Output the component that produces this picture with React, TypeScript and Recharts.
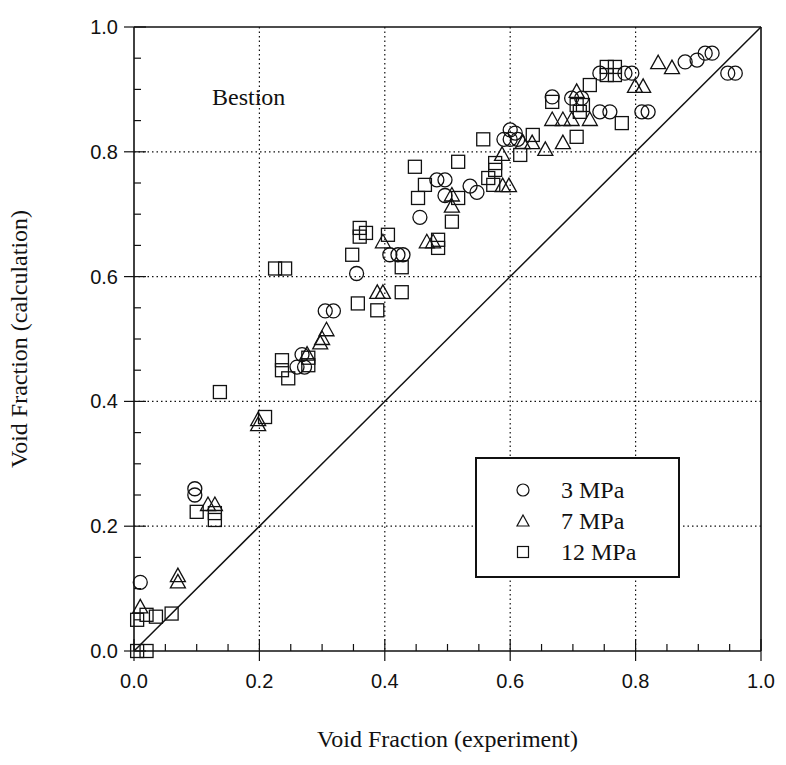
import React from "react";
import {
  ScatterChart,
  Scatter,
  XAxis,
  YAxis,
  CartesianGrid,
  ReferenceLine,
  Legend,
} from "recharts";

// values (x = experiment, y = calculation)
const mpa3 = [
  { x: 0.01, y: 0.11 },
  { x: 0.097, y: 0.26 },
  { x: 0.097, y: 0.25 },
  { x: 0.26, y: 0.455 },
  { x: 0.272, y: 0.455 },
  { x: 0.268, y: 0.475 },
  { x: 0.305, y: 0.545 },
  { x: 0.318, y: 0.545 },
  { x: 0.355, y: 0.605 },
  { x: 0.408, y: 0.635 },
  { x: 0.421, y: 0.635 },
  { x: 0.429, y: 0.635 },
  { x: 0.456, y: 0.695 },
  { x: 0.483, y: 0.755 },
  { x: 0.496, y: 0.755 },
  { x: 0.496, y: 0.73 },
  { x: 0.536, y: 0.745 },
  { x: 0.547, y: 0.735 },
  { x: 0.59, y: 0.82 },
  { x: 0.6, y: 0.835 },
  { x: 0.608, y: 0.83 },
  { x: 0.6, y: 0.82 },
  { x: 0.612, y: 0.82 },
  { x: 0.667, y: 0.888 },
  { x: 0.698, y: 0.886 },
  { x: 0.714, y: 0.886 },
  { x: 0.743, y: 0.864 },
  { x: 0.759, y: 0.864 },
  { x: 0.81, y: 0.864 },
  { x: 0.82, y: 0.864 },
  { x: 0.743, y: 0.926 },
  { x: 0.783, y: 0.926 },
  { x: 0.794, y: 0.926 },
  { x: 0.879, y: 0.944 },
  { x: 0.898, y: 0.947 },
  { x: 0.911, y: 0.958 },
  { x: 0.922, y: 0.958 },
  { x: 0.947, y: 0.926 },
  { x: 0.959, y: 0.926 },
];

const mpa7 = [
  { x: 0.01, y: 0.07 },
  { x: 0.07, y: 0.12 },
  { x: 0.07, y: 0.11 },
  { x: 0.118, y: 0.234 },
  { x: 0.129, y: 0.234 },
  { x: 0.198, y: 0.37 },
  { x: 0.198, y: 0.362 },
  { x: 0.276, y: 0.475 },
  { x: 0.297, y: 0.493 },
  { x: 0.3, y: 0.5 },
  { x: 0.307, y: 0.514 },
  { x: 0.388, y: 0.574 },
  { x: 0.397, y: 0.574 },
  { x: 0.397, y: 0.655 },
  { x: 0.467, y: 0.655 },
  { x: 0.477, y: 0.655 },
  { x: 0.507, y: 0.73 },
  { x: 0.507, y: 0.712 },
  { x: 0.588, y: 0.745 },
  { x: 0.598, y: 0.745 },
  { x: 0.587, y: 0.795 },
  { x: 0.62, y: 0.814 },
  { x: 0.635, y: 0.814 },
  { x: 0.656, y: 0.803 },
  { x: 0.667, y: 0.851 },
  { x: 0.684, y: 0.851 },
  { x: 0.698, y: 0.851 },
  { x: 0.684, y: 0.814 },
  { x: 0.706, y: 0.896 },
  { x: 0.727, y: 0.851 },
  { x: 0.799, y: 0.904 },
  { x: 0.812, y: 0.904 },
  { x: 0.836, y: 0.942 },
  { x: 0.858, y: 0.934 },
];

const mpa12 = [
  { x: 0.005, y: 0.0 },
  { x: 0.02, y: 0.0 },
  { x: 0.005, y: 0.05 },
  { x: 0.02, y: 0.058 },
  { x: 0.035, y: 0.055 },
  { x: 0.06, y: 0.06 },
  { x: 0.1, y: 0.223 },
  { x: 0.129, y: 0.221 },
  { x: 0.129, y: 0.21 },
  { x: 0.137, y: 0.415 },
  { x: 0.209, y: 0.375 },
  { x: 0.225, y: 0.613 },
  { x: 0.241, y: 0.613 },
  { x: 0.236, y: 0.466 },
  { x: 0.236, y: 0.45 },
  { x: 0.246, y: 0.437 },
  { x: 0.278, y: 0.47 },
  { x: 0.278, y: 0.458 },
  { x: 0.348, y: 0.635 },
  { x: 0.357, y: 0.557 },
  { x: 0.36, y: 0.678 },
  { x: 0.36, y: 0.664 },
  { x: 0.37, y: 0.67 },
  { x: 0.388, y: 0.546 },
  { x: 0.405, y: 0.667 },
  { x: 0.427, y: 0.615 },
  { x: 0.427, y: 0.575 },
  { x: 0.448, y: 0.776 },
  { x: 0.453, y: 0.726 },
  { x: 0.464, y: 0.747 },
  { x: 0.485, y: 0.659 },
  { x: 0.485, y: 0.646 },
  { x: 0.507, y: 0.688 },
  { x: 0.517, y: 0.726 },
  { x: 0.517, y: 0.784 },
  { x: 0.557, y: 0.82 },
  { x: 0.565, y: 0.758 },
  { x: 0.573, y: 0.747 },
  { x: 0.576, y: 0.782 },
  { x: 0.576, y: 0.771 },
  { x: 0.616, y: 0.795 },
  { x: 0.636, y: 0.827 },
  { x: 0.667, y: 0.88 },
  { x: 0.706, y: 0.875 },
  { x: 0.716, y: 0.875 },
  { x: 0.711, y: 0.864 },
  { x: 0.706, y: 0.824 },
  { x: 0.727, y: 0.907 },
  { x: 0.754, y: 0.936 },
  { x: 0.767, y: 0.936 },
  { x: 0.754, y: 0.923 },
  { x: 0.767, y: 0.923 },
  { x: 0.778, y: 0.846 },
];

const seriesNames = ["3 MPa", "7 MPa", "12 MPa"];
const majorTicks = [0, 0.2, 0.4, 0.6, 0.8, 1.0];
const gridTicks = [0.2, 0.4, 0.6, 0.8];
const allTicks = [
  0, 0.05, 0.1, 0.15, 0.2, 0.25, 0.3, 0.35, 0.4, 0.45, 0.5, 0.55, 0.6, 0.65,
  0.7, 0.75, 0.8, 0.85, 0.9, 0.95, 1.0,
];

const serif = "'Liberation Serif', 'Times New Roman', serif";
const sans = "'Liberation Sans', Arial, sans-serif";
const INK = "#111";

// plot frame in pixels
const W = 786;
const H = 765;
const LEFT = 134;
const RIGHT = 25;
const TOP = 27;
const BOTTOM = 114;
const PW = W - LEFT - RIGHT;
const PH = H - TOP - BOTTOM;

const isMajor = (v: number) => majorTicks.some((m) => Math.abs(m - v) < 1e-6);

// draws a tick mark (major ones cross the frame) and the label where needed
const makeTick = (side: string, label: boolean) => (props: any) => {
  const { x, y, payload } = props;
  const v = payload.value;
  const major = isMajor(v);
  const inn = major ? 12 : 7;
  const out = major ? 10 : 0;
  let line;
  let text = null;
  if (side === "bottom") {
    line = <line x1={x} x2={x} y1={y - inn} y2={y + out} stroke={INK} strokeWidth={1.2} />;
    if (label && major)
      text = (
        <text x={x} y={y + 37} textAnchor="middle" fontFamily={sans} fontSize={20} fill={INK}>
          {v.toFixed(1)}
        </text>
      );
  } else if (side === "top") {
    line = <line x1={x} x2={x} y1={y - out} y2={y + inn} stroke={INK} strokeWidth={1.2} />;
  } else if (side === "left") {
    line = <line x1={x - out} x2={x + inn} y1={y} y2={y} stroke={INK} strokeWidth={1.2} />;
    if (label && major)
      text = (
        <text x={x - 16} y={y + 7} textAnchor="end" fontFamily={sans} fontSize={20} fill={INK}>
          {v.toFixed(1)}
        </text>
      );
  } else {
    line = <line x1={x - inn} x2={x + out} y1={y} y2={y} stroke={INK} strokeWidth={1.2} />;
  }
  return (
    <g>
      {line}
      {text}
    </g>
  );
};

const Circle = (p: any) => (
  <circle cx={p.cx} cy={p.cy} r={7} fill="none" stroke={INK} strokeWidth={1.3} />
);
const Triangle = (p: any) => (
  <path
    d={`M${p.cx},${p.cy - 8} L${p.cx + 7.5},${p.cy + 5.5} L${p.cx - 7.5},${p.cy + 5.5} Z`}
    fill="none"
    stroke={INK}
    strokeWidth={1.3}
  />
);
const Square = (p: any) => (
  <rect x={p.cx - 6.5} y={p.cy - 6.5} width={13} height={13} fill="none" stroke={INK} strokeWidth={1.3} />
);

const LegendBox = () => {
  const icons = [
    <circle cx={8} cy={8} r={6} fill="none" stroke={INK} strokeWidth={1.2} />,
    <path d="M8,2 L14,13 L2,13 Z" fill="none" stroke={INK} strokeWidth={1.2} />,
    <rect x={2.5} y={2.5} width={11} height={11} fill="none" stroke={INK} strokeWidth={1.2} />,
  ];
  return (
    <div
      style={{
        width: 205,
        height: 121,
        boxSizing: "border-box",
        border: `2px solid ${INK}`,
        background: "#fff",
        position: "relative",
      }}
    >
      {seriesNames.map((n, i) => (
        <div
          key={n}
          style={{
            position: "absolute",
            left: 38,
            top: 16 + i * 31,
            height: 30,
            display: "flex",
            alignItems: "center",
          }}
        >
          <svg width={16} height={16} style={{ marginRight: 30 }}>
            {icons[i]}
          </svg>
          <span style={{ fontFamily: serif, fontSize: 24, color: INK, lineHeight: "30px" }}>{n}</span>
        </div>
      ))}
    </div>
  );
};

export default function App() {
  const vPts = gridTicks.map((t) => LEFT + t * PW);
  const hPts = gridTicks.map((t) => TOP + (1 - t) * PH);
  return (
    <div style={{ position: "absolute", left: 0, top: 0, width: W, height: H, background: "#fff" }}>
      <ScatterChart width={W} height={H} margin={{ top: 0, right: 0, bottom: 0, left: 0 }}>
        <CartesianGrid
          xAxisId="main"
          yAxisId="main"
          verticalPoints={vPts}
          horizontalPoints={hPts}
          stroke={INK}
          strokeDasharray="1.5 3"
          strokeWidth={1.2}
        />
        <XAxis
          xAxisId="main"
          type="number"
          dataKey="x"
          domain={[0, 1]}
          ticks={allTicks}
          interval={0}
          height={BOTTOM}
          tickSize={0}
          tickMargin={0}
          tickLine={false}
          axisLine={{ stroke: INK, strokeWidth: 1.6 }}
          tick={makeTick("bottom", true)}
          label={{
            value: "Void Fraction (experiment)",
            position: "insideBottom",
            offset: 18,
            style: { fontFamily: serif, fontSize: 24, fill: INK },
          }}
        />
        <XAxis
          xAxisId="top"
          orientation="top"
          type="number"
          dataKey="x"
          domain={[0, 1]}
          ticks={allTicks}
          interval={0}
          height={TOP}
          tickSize={0}
          tickMargin={0}
          tickLine={false}
          axisLine={{ stroke: INK, strokeWidth: 1.6 }}
          tick={makeTick("top", false)}
        />
        <YAxis
          yAxisId="main"
          type="number"
          dataKey="y"
          domain={[0, 1]}
          ticks={allTicks}
          interval={0}
          width={LEFT}
          tickSize={0}
          tickMargin={0}
          tickLine={false}
          axisLine={{ stroke: INK, strokeWidth: 1.6 }}
          tick={makeTick("left", true)}
          label={{
            value: "Void Fraction (calculation)",
            angle: -90,
            position: "insideLeft",
            offset: 18,
            style: { fontFamily: serif, fontSize: 24, fill: INK, textAnchor: "middle" },
          }}
        />
        <YAxis
          yAxisId="right"
          orientation="right"
          type="number"
          dataKey="y"
          domain={[0, 1]}
          ticks={allTicks}
          interval={0}
          width={RIGHT}
          tickSize={0}
          tickMargin={0}
          tickLine={false}
          axisLine={{ stroke: INK, strokeWidth: 1.6 }}
          tick={makeTick("right", false)}
        />
        <ReferenceLine
          xAxisId="main"
          yAxisId="main"
          segment={[
            { x: 0, y: 0 },
            { x: 1, y: 1 },
          ]}
          stroke={INK}
          strokeWidth={1.5}
        />
        <Scatter
          name={seriesNames[0]}
          data={mpa3}
          xAxisId="main"
          yAxisId="main"
          shape={Circle}
          isAnimationActive={false}
        />
        <Scatter
          name={seriesNames[1]}
          data={mpa7}
          xAxisId="main"
          yAxisId="main"
          shape={Triangle}
          isAnimationActive={false}
        />
        <Scatter
          name={seriesNames[2]}
          data={mpa12}
          xAxisId="main"
          yAxisId="main"
          shape={Square}
          isAnimationActive={false}
        />
        <Legend
          layout="horizontal"
          verticalAlign="middle"
          align="center"
          content={() => <LegendBox />}
          wrapperStyle={{ left: 475, top: 457, width: 205, height: 121 }}
        />
      </ScatterChart>
      <div
        style={{
          position: "absolute",
          left: 212,
          top: 84,
          fontFamily: serif,
          fontSize: 24,
          color: INK,
        }}
      >
        Bestion
      </div>
    </div>
  );
}
